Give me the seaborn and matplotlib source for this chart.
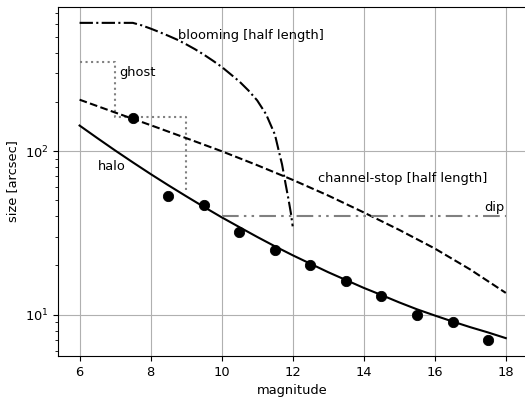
import matplotlib
matplotlib.use("Agg")
import matplotlib.pyplot as plt
import seaborn as sns

# halo model curve
halo_mag = [6, 6.5, 7, 7.5, 8, 8.5, 9, 9.5, 10, 10.5, 11, 11.5, 12,
            12.5, 13, 13.5, 14, 14.5, 15, 15.5, 16, 16.5, 17, 17.5, 18]
halo_size = [143.2, 120, 100.9, 85.3, 72.4, 61.8, 53.0, 45.6, 39.4, 34.3, 29.9, 26.2, 23.1,
             20.5, 18.2, 16.3, 14.6, 13.2, 11.9, 10.8, 9.9, 9.1, 8.4, 7.8, 7.2]

# measured halo sizes
meas_mag = [7.5, 8.5, 9.5, 10.5, 11.5, 12.5, 13.5, 14.5, 15.5, 16.5, 17.5]
meas_size = [160, 53, 47, 32, 25, 20, 16, 13, 10, 9, 7]

# blooming half length
bloom_mag = [6, 7.5, 7.75, 8.0, 8.25, 8.5, 8.75, 9.0, 9.25, 9.5, 9.75, 10.0, 10.25, 10.5,
             10.75, 11.0, 11.25, 11.5, 11.6, 11.7, 11.8, 11.88, 11.95, 12.0]
bloom_size = [607, 607, 586, 560, 533, 506, 479, 449, 419, 388, 357, 327, 295, 266,
              235, 204, 168, 126, 102, 83, 63, 51, 41.7, 34.7]

# ghost (step)
ghost_mag = [6, 7, 9]
ghost_size = [352, 161, 57.4]

# channel-stop half length
chan_mag = [6, 7, 8, 9, 10, 11, 12, 13, 14, 15, 16, 17, 18]
chan_size = [206, 172, 144, 120, 99.8, 82, 66.7, 53.5, 42.2, 33, 25.4, 18.9, 13.6]

# dip
dip_mag = [10, 18]
dip_size = [40, 40]

plt.rcParams["font.family"] = ["DejaVu Sans"]
plt.rcParams["font.size"] = 9.4

fig = plt.figure(figsize=(5.25, 4.0), dpi=100)
ax = fig.add_axes([0.111, 0.11, 0.893, 0.8725])

sns.lineplot(x=halo_mag, y=halo_size, ax=ax, color="black", lw=1.5, estimator=None, sort=False)
sns.lineplot(x=bloom_mag, y=bloom_size, ax=ax, color="black", lw=1.5, linestyle="-.",
             estimator=None, sort=False)
sns.lineplot(x=ghost_mag, y=ghost_size, ax=ax, color="gray", lw=1.5, linestyle=":",
             drawstyle="steps-post", estimator=None, sort=False)
sns.lineplot(x=chan_mag, y=chan_size, ax=ax, color="black", lw=1.5, linestyle="--",
             estimator=None, sort=False)
sns.lineplot(x=dip_mag, y=dip_size, ax=ax, color="gray", lw=1.5,
             linestyle=(0, (8, 2.5, 1.2, 2.5, 1.2, 2.5)), estimator=None, sort=False)
sns.scatterplot(x=meas_mag, y=meas_size, ax=ax, color="black", s=55, edgecolor="black", zorder=5)

ax.set_yscale("log")
ax.grid(True, which="major", color="#b0b0b0", lw=0.8)
ax.set_axisbelow(True)
ax.set_xticks([6, 8, 10, 12, 14, 16, 18])

ax.text(8.78, 507, "blooming [half length]", va="center", ha="left")
ax.text(7.13, 303, "ghost", va="center", ha="left")
ax.text(6.52, 80.7, "halo", va="center", ha="left")
ax.text(12.7, 67.7, "channel-stop [half length]", va="center", ha="left")
ax.text(17.39, 45, "dip", va="center", ha="left")

ax.set_xlabel("magnitude")
ax.set_ylabel("size [arcsec]")

fig.savefig("out.png", dpi=100)
